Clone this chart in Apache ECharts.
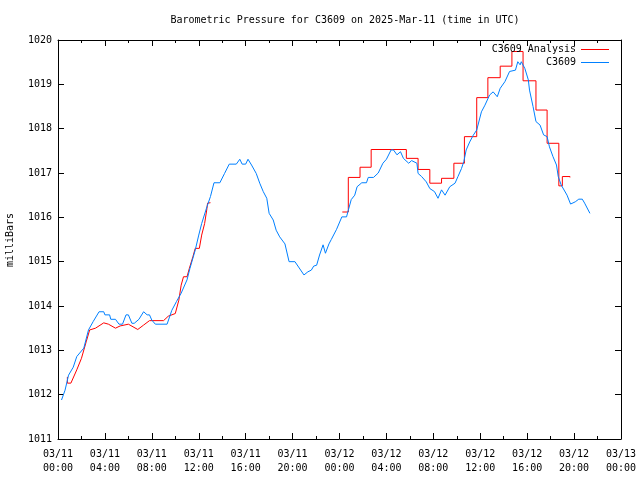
<!DOCTYPE html>
<html>
<head>
<meta charset="utf-8">
<script src="https://cdn.jsdelivr.net/npm/echarts@6/dist/echarts.min.js"></script>
<style>
html,body{margin:0;padding:0;background:#fff;}
#chart{width:640px;height:480px;}
</style>
</head>
<body>
<div id="chart"></div>
<script>
// Hours since 2025-03-11 00:00 UTC
var blueTimes = [0.3,0.6,0.9,1.3,1.6,2.2,2.6,3.0,3.5,3.9,4.0,4.4,4.5,4.9,5.2,5.5,5.8,6.0,6.3,6.5,6.9,7.3,7.6,7.8,8.0,8.3,9.3,9.7,10.1,10.5,11.0,11.25,11.7,12.0,12.25,12.7,13.0,13.3,13.8,14.2,14.6,15.2,15.5,15.7,16.0,16.2,16.5,16.9,17.2,17.5,17.8,18.0,18.35,18.6,18.9,19.35,19.5,19.7,20.2,20.97,21.3,21.6,21.8,22.05,22.3,22.6,22.8,23.1,23.3,23.75,24.2,24.6,24.75,25.0,25.3,25.5,25.9,26.3,26.45,26.9,27.3,27.7,28.0,28.4,28.6,28.9,29.2,29.45,29.9,30.15,30.6,30.7,31.0,31.4,31.7,32.1,32.4,32.7,33.0,33.4,33.85,34.1,34.4,34.6,34.8,35.1,35.4,35.7,36.1,36.4,36.8,37.1,37.45,37.7,38.1,38.5,39.0,39.2,39.4,39.5,39.8,40.1,40.2,40.5,40.75,41.1,41.4,41.7,41.9,42.2,42.5,42.65,42.9,43.4,43.7,44.1,44.4,44.7,44.9,45.35];
var blueValues = [1011.88,1012.10,1012.44,1012.62,1012.86,1013.05,1013.46,1013.65,1013.87,1013.87,1013.80,1013.80,1013.70,1013.70,1013.59,1013.59,1013.80,1013.80,1013.61,1013.61,1013.70,1013.87,1013.80,1013.80,1013.68,1013.59,1013.59,1013.90,1014.10,1014.29,1014.59,1014.85,1015.26,1015.60,1015.86,1016.24,1016.47,1016.78,1016.78,1016.99,1017.20,1017.20,1017.31,1017.20,1017.20,1017.31,1017.18,1016.99,1016.77,1016.58,1016.43,1016.09,1015.94,1015.71,1015.56,1015.40,1015.40,1015.00,1015.00,1014.70,1014.77,1014.81,1014.90,1014.92,1015.15,1015.38,1015.19,1015.40,1015.50,1015.73,1016.01,1016.01,1016.16,1016.40,1016.50,1016.69,1016.78,1016.78,1016.90,1016.90,1017.00,1017.22,1017.31,1017.52,1017.52,1017.41,1017.48,1017.33,1017.22,1017.28,1017.22,1016.99,1016.92,1016.80,1016.65,1016.58,1016.43,1016.62,1016.50,1016.69,1016.77,1016.92,1017.10,1017.26,1017.52,1017.70,1017.85,1017.97,1018.38,1018.53,1018.76,1018.83,1018.72,1018.91,1019.06,1019.29,1019.32,1019.51,1019.44,1019.51,1019.36,1019.10,1018.87,1018.50,1018.16,1018.08,1017.86,1017.82,1017.59,1017.37,1017.18,1016.92,1016.73,1016.50,1016.30,1016.35,1016.41,1016.41,1016.32,1016.09];

// Analysis, first stretch
var redTimes1 = [0.8,0.8,1.1,1.6,2.0,2.4,2.7,3.2,3.9,4.3,4.9,5.3,6.0,6.8,7.3,7.8,9.0,9.4,10.0,10.3,10.5,10.7,11.0,11.2,11.5,11.7,12.05,12.25,12.5,12.7,12.75,13.0];
var redValues1 = [1012.40,1012.26,1012.26,1012.56,1012.82,1013.19,1013.46,1013.50,1013.62,1013.59,1013.50,1013.55,1013.59,1013.47,1013.57,1013.67,1013.67,1013.77,1013.83,1014.13,1014.47,1014.66,1014.66,1014.85,1015.11,1015.30,1015.30,1015.60,1015.86,1016.20,1016.32,1016.33];

// Analysis, hourly stretch (held values)
var redTimes2 = [24.24,24.75,25.75,26.7,29.7,30.7,31.7,32.7,33.75,34.65,35.7,36.65,37.7,38.7,39.65,40.75,41.7,42.7,43.0,43.65];
var redValues2 = [1016.12,1016.90,1017.13,1017.53,1017.33,1017.08,1016.77,1016.88,1017.22,1017.82,1018.70,1019.15,1019.41,1019.74,1019.08,1018.42,1017.67,1016.71,1016.92,1016.90];

var yTicks = [1011,1012,1013,1014,1015,1016,1017,1018,1019,1020];
var xTickHours = [0,4,8,12,16,20,24,28,32,36,40,44,48];

function zip(a, b){ return a.map(function(v,i){ return [v, b[i]]; }); }

var FONT = 'DejaVu Sans Mono';
var chart = echarts.init(document.getElementById('chart'), null, {renderer:'canvas'});

function xLabel(v){
  var day = 11 + Math.floor(v/24);
  var h = v % 24;
  var dd = day < 10 ? '0'+day : ''+day;
  var hh = h < 10 ? '0'+h : ''+h;
  return '03/' + dd + '\n' + hh + ':00';
}

var axisCommon = {
  axisLine:{show:true, onZero:false, lineStyle:{color:'#000', width:1}},
  splitLine:{show:false}
};

chart.setOption({
  animation:false,
  backgroundColor:'#fff',
  title:{
    text:'Barometric Pressure for C3609 on 2025-Mar-11 (time in UTC)',
    left:340, top:10, textAlign:'center',
    textStyle:{fontFamily:FONT, fontSize:10, fontWeight:'normal', color:'#000'}
  },
  graphic:[{
    type:'text', x:10, y:240, rotation:Math.PI/2,
    style:{text:'milliBars', fontFamily:FONT, fontSize:10, fill:'#000', textAlign:'center', textVerticalAlign:'middle'}
  }],
  legend:{
    orient:'vertical', right:31, top:43, padding:0, itemGap:0,
    itemWidth:28, itemHeight:1, align:'right', icon:'rect',
    textStyle:{fontFamily:FONT, fontSize:10, color:'#000', lineHeight:13, height:13},
    data:['C3609 Analysis','C3609']
  },
  grid:{left:58, right:19, top:40, bottom:41, containLabel:false},
  xAxis:[
    Object.assign({}, axisCommon, {
      type:'value', min:0, max:48, interval:4, position:'bottom',
      axisTick:{show:true, inside:true, length:6, lineStyle:{color:'#000'}},
      minorTick:{show:true, splitNumber:2, length:3, lineStyle:{color:'#000'}},
      axisLabel:{show:true, margin:8, formatter:xLabel, fontFamily:FONT, fontSize:10, lineHeight:14, color:'#000'}
    }),
    Object.assign({}, axisCommon, {
      type:'value', min:0, max:48, interval:4, position:'top',
      axisTick:{show:true, inside:true, length:6, lineStyle:{color:'#000'}},
      minorTick:{show:true, splitNumber:2, length:3, lineStyle:{color:'#000'}},
      axisLabel:{show:false}
    })
  ],
  yAxis:[
    Object.assign({}, axisCommon, {
      type:'value', min:yTicks[0], max:yTicks[yTicks.length-1], interval:1, position:'left',
      axisTick:{show:true, inside:true, length:6, lineStyle:{color:'#000'}},
      axisLabel:{show:true, margin:6, fontFamily:FONT, fontSize:10, color:'#000',
        formatter:function(v){ return String(v); }}
    }),
    Object.assign({}, axisCommon, {
      type:'value', min:yTicks[0], max:yTicks[yTicks.length-1], interval:1, position:'right',
      axisTick:{show:true, inside:true, length:6, lineStyle:{color:'#000'}},
      axisLabel:{show:false}
    })
  ],
  series:[
    {
      name:'C3609 Analysis', type:'line', xAxisIndex:0, yAxisIndex:0,
      data: zip(redTimes1, redValues1),
      symbol:'none', lineStyle:{color:'#ff0000', width:1}, itemStyle:{color:'#ff0000'}
    },
    {
      name:'C3609 Analysis', type:'line', xAxisIndex:0, yAxisIndex:0, step:'end',
      data: zip(redTimes2, redValues2),
      symbol:'none', lineStyle:{color:'#ff0000', width:1}, itemStyle:{color:'#ff0000'}
    },
    {
      name:'C3609', type:'line', xAxisIndex:0, yAxisIndex:0,
      data: zip(blueTimes, blueValues),
      symbol:'none', lineStyle:{color:'#0080ff', width:1}, itemStyle:{color:'#0080ff'}
    }
  ]
});
</script>
</body>
</html>
